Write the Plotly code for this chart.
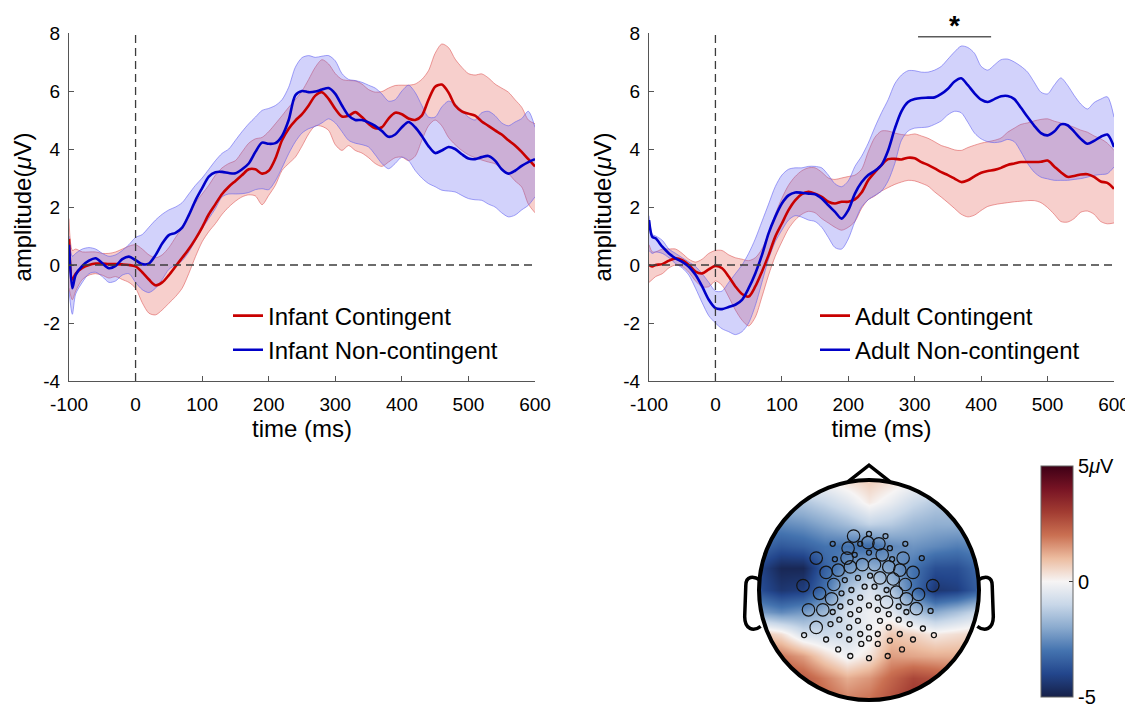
import numpy as np
import plotly.graph_objects as go

# ---------------- data ----------------
time_ms = [-100, -95] + list(range(-90, 601, 10))

infant_cont = [0.9, -0.5,
    -0.3, -0.1, 0.0, 0.05, 0.05, 0.03, 0.03, 0.02, 0.0, -0.05,
    -0.25, -0.5, -0.7, -0.6, -0.35, -0.05, 0.25, 0.55, 0.9, 1.3,
    1.75, 2.1, 2.45, 2.7, 2.9, 3.1, 3.3, 3.3, 3.15, 3.25,
    3.67, 4.3, 4.7, 4.98, 5.2, 5.5, 5.84, 5.96, 5.73, 5.38,
    5.12, 5.15, 5.27, 5.1, 4.87, 4.72, 4.75, 5.05, 5.25, 5.2,
    5.05, 5.0, 5.15, 5.7, 6.15, 6.22, 5.95, 5.5, 5.3, 5.22,
    5.15, 4.95, 4.8, 4.64, 4.5, 4.3, 4.12, 3.9, 3.65, 3.4]
infant_cont_hi = [1.6, 0.5,
    0.55, 0.45, 0.45, 0.45, 0.4, 0.4, 0.45, 0.55, 0.65, 0.7,
    0.55, 0.35, 0.25, 0.35, 0.6, 0.95, 1.3, 1.75, 2.15, 2.45,
    2.75, 3.1, 3.35, 3.5, 3.6, 3.9, 4.2, 4.35, 4.4, 4.6,
    4.87, 5.15, 5.44, 5.7, 6.0, 6.4, 6.82, 7.08, 6.93, 6.6,
    6.4, 6.36, 6.35, 6.24, 6.05, 5.96, 5.98, 6.1, 6.19, 6.2,
    6.2, 6.24, 6.4, 6.7, 7.3, 7.62, 7.5, 7.1, 6.82, 6.6,
    6.55, 6.59, 6.45, 6.24, 6.1, 5.96, 5.7, 5.44, 5.0, 4.87]
infant_cont_lo = [-0.8, -1.2,
    -0.9, -0.5, -0.35, -0.3, -0.35, -0.45, -0.4, -0.5, -0.6, -0.8,
    -1.3, -1.66, -1.72, -1.55, -1.32, -1.09, -0.8, -0.29, 0.29, 0.8,
    1.15, 1.43, 1.75, 2.0, 2.2, 2.35, 2.42, 2.38, 2.08, 2.4,
    2.75, 3.26, 3.5, 3.72, 4.1, 4.52, 4.8, 4.78, 4.64, 4.15,
    3.95, 4.12, 3.95, 3.86, 3.7, 3.5, 3.4, 3.55, 3.7, 3.72,
    3.6, 3.75, 4.3, 4.8, 5.0, 4.8, 4.4, 4.15, 3.95, 3.8,
    3.7, 3.62, 3.55, 3.49, 3.3, 3.15, 2.9, 2.69, 2.1, 1.8]

infant_noncont = [0.7, -0.8,
    -0.34, -0.03, 0.15, 0.23, 0.06, -0.11, -0.03, 0.2, 0.29, 0.17,
    0.03, 0.05, 0.34, 0.74, 1.03, 1.11, 1.29, 1.72, 2.23, 2.65,
    3.05, 3.2, 3.21, 3.17, 3.16, 3.3, 3.5, 3.9, 4.22, 4.18,
    4.2, 4.45, 5.0, 5.85, 6.0, 5.96, 5.98, 6.05, 6.1, 5.9,
    5.5, 5.15, 5.0, 5.0, 4.92, 4.8, 4.62, 4.42, 4.5, 4.75,
    4.93, 4.75, 4.45, 4.1, 3.86, 3.95, 4.07, 4.0, 3.82, 3.67,
    3.65, 3.72, 3.76, 3.6, 3.3, 3.15, 3.25, 3.42, 3.55, 3.65]
infant_noncont_hi = [1.0, 0.3,
    0.4, 0.55, 0.6, 0.55, 0.4, 0.3, 0.35, 0.5, 0.7, 0.95,
    1.05, 1.3, 1.55, 1.75, 1.9, 2.0, 2.15, 2.45, 2.75, 3.0,
    3.3, 3.6, 3.85, 4.0, 4.3, 4.6, 4.87, 5.1, 5.33, 5.4,
    5.5, 5.7, 6.13, 6.82, 7.15, 7.22, 7.16, 7.2, 7.22, 7.04,
    6.6, 6.4, 6.36, 6.3, 6.2, 6.1, 5.9, 5.65, 5.7, 6.0,
    6.2, 5.95, 5.5, 5.1, 5.1, 5.45, 5.65, 5.55, 5.33, 5.1,
    5.0, 5.25, 5.3, 5.15, 4.9, 4.8, 4.93, 5.05, 5.3, 4.75]
infant_noncont_lo = [-0.9, -1.7,
    -1.0, -0.6, -0.3, -0.25, -0.4, -0.6, -0.55, -0.35, -0.3, -0.6,
    -0.85, -0.95, -0.8, -0.5, -0.15, 0.0, 0.15, 0.45, 0.85, 1.25,
    1.6, 1.95, 2.35, 2.45, 2.45, 2.46, 2.5, 2.6, 2.63, 2.6,
    2.9, 3.35, 3.84, 4.25, 4.55, 4.7, 4.78, 4.9, 5.04, 4.9,
    4.6, 4.3, 4.2, 4.15, 4.07, 3.8, 3.5, 3.32, 3.5, 3.72,
    3.6, 3.26, 3.0, 2.81, 2.7, 2.58, 2.55, 2.52, 2.4, 2.29,
    2.25, 2.23, 2.1, 2.0, 1.8, 1.66, 1.72, 1.9, 2.06, 2.35]

adult_cont = [0.0, -0.05,
    0.0, 0.03, 0.15, 0.23, 0.17, 0.0, -0.23, -0.29, -0.15, -0.03,
    -0.11, -0.4, -0.74, -1.0, -1.09, -0.74, -0.23, 0.34, 0.97, 1.43,
    1.89, 2.23, 2.44, 2.52, 2.46, 2.35, 2.18, 2.12, 2.18, 2.18,
    2.26, 2.5, 2.92, 3.2, 3.45, 3.65, 3.66, 3.64, 3.7, 3.68,
    3.55, 3.45, 3.33, 3.2, 3.1, 2.98, 2.86, 2.92, 3.06, 3.18,
    3.24, 3.28, 3.35, 3.45, 3.5, 3.55, 3.55, 3.55, 3.56, 3.6,
    3.4, 3.2, 3.04, 3.07, 3.12, 3.13, 3.04, 2.88, 2.83, 2.63]
adult_cont_hi = [0.7, 0.45,
    0.45, 0.55, 0.55, 0.55, 0.4, 0.2, 0.1, 0.2, 0.4, 0.5,
    0.5, 0.35, 0.25, 0.2, 0.15, 0.25, 0.55, 1.1, 1.75, 2.3,
    2.75, 3.05, 3.25, 3.35, 3.35, 3.2, 3.0, 2.95, 3.0, 3.05,
    3.1, 3.3, 3.9, 4.4, 4.62, 4.62, 4.55, 4.5, 4.48, 4.52,
    4.45, 4.37, 4.25, 4.12, 4.05, 3.97, 3.95, 4.05, 4.13, 4.2,
    4.25, 4.3, 4.38, 4.58, 4.72, 4.85, 4.9, 4.97, 5.02, 5.04,
    4.96, 4.9, 4.83, 4.75, 4.65, 4.58, 4.45, 4.35, 4.2, 3.95]
adult_cont_lo = [-0.6, -0.5,
    -0.4, -0.3, -0.1, 0.0, -0.05, -0.25, -0.55, -0.75, -0.75, -0.55,
    -0.7, -1.1, -1.55, -1.9, -2.1, -1.8, -1.1, -0.35, 0.3, 0.8,
    1.25, 1.55, 1.75, 1.85, 1.8, 1.6, 1.45, 1.3, 1.2, 1.3,
    1.5, 1.95, 2.25, 2.38, 2.55, 2.67, 2.78, 2.86, 2.92, 2.9,
    2.82, 2.72, 2.52, 2.34, 2.15, 1.95, 1.75, 1.66, 1.72, 1.88,
    2.02, 2.08, 2.12, 2.15, 2.18, 2.2, 2.22, 2.22, 2.15, 1.98,
    1.75, 1.5, 1.48, 1.6, 1.82, 1.86, 1.75, 1.5, 1.42, 1.45]

adult_noncont = [1.55, 0.97,
    0.92, 0.63, 0.4, 0.23, 0.11, -0.06, -0.34, -0.74, -1.2, -1.49,
    -1.52, -1.45, -1.37, -1.2, -0.8, -0.29, 0.34, 1.09, 1.66, 2.12,
    2.4, 2.5, 2.49, 2.46, 2.44, 2.29, 2.06, 1.83, 1.6, 1.89,
    2.46, 2.85, 3.1, 3.25, 3.45, 3.95, 4.7, 5.3, 5.62, 5.72,
    5.76, 5.77, 5.78, 5.9, 6.08, 6.33, 6.44, 6.2, 5.92, 5.7,
    5.62, 5.72, 5.82, 5.83, 5.72, 5.42, 5.1, 4.8, 4.55, 4.47,
    4.6, 4.85, 4.82, 4.6, 4.35, 4.18, 4.28, 4.42, 4.5, 4.07]
adult_noncont_hi = [1.7, 1.05,
    1.0, 0.85, 0.55, 0.4, 0.25, 0.1, -0.05, -0.3, -0.6, -0.9,
    -0.9, -0.6, -0.3, 0.0, 0.4, 0.9, 1.5, 2.1, 2.7, 3.1,
    3.3, 3.35, 3.35, 3.4, 3.4, 3.35, 3.1, 2.8, 2.7, 2.9,
    3.4, 3.75, 4.2, 4.75, 5.25, 5.7, 6.25, 6.55, 6.7, 6.7,
    6.65, 6.65, 6.72, 6.85, 7.1, 7.35, 7.55, 7.5, 7.3, 6.85,
    6.72, 6.9, 7.08, 7.1, 7.0, 6.85, 6.65, 6.3, 5.96, 5.9,
    6.2, 6.45, 6.2, 5.85, 5.55, 5.38, 5.6, 5.72, 5.8, 5.1]
adult_noncont_lo = [0.5, 0.4,
    0.45, 0.4, 0.25, 0.05, -0.1, -0.35, -0.8, -1.3, -1.75, -2.0,
    -2.2, -2.3, -2.4, -2.3, -2.0, -1.4, -0.6, 0.2, 0.8, 1.2,
    1.55, 1.7, 1.65, 1.55, 1.5, 1.3, 0.95, 0.6, 0.55, 0.9,
    1.5, 2.0, 2.25, 2.4, 2.55, 2.9, 3.5, 4.3, 4.62, 4.72,
    4.74, 4.76, 4.85, 4.97, 5.18, 5.3, 5.25, 4.92, 4.55, 4.35,
    4.25, 4.22, 4.25, 4.33, 4.25, 3.9, 3.5, 3.2, 3.03, 2.97,
    2.92, 2.92, 2.92, 2.95, 2.98, 3.03, 3.09, 3.12, 3.15, 3.38]

time_ticks = [-100, 0, 100, 200, 300, 400, 500, 600]
time_labels = ["-100", "0", "100", "200", "300", "400", "500", "600"]
amp_ticks = [-4, -2, 0, 2, 4, 6, 8]
amp_labels = ["-4", "-2", "0", "2", "4", "6", "8"]
sig_window = [305, 415]
sig_level = 7.87

# topography: coarse grid of amplitudes (uV), rows from bottom (v=-1) to top (v=1)
topo_u = [-1.0, -0.8, -0.6, -0.4, -0.2, 0.0, 0.2, 0.4, 0.6, 0.8, 1.0]
topo_v = [-1.0, -0.8, -0.6, -0.4, -0.2, 0.0, 0.2, 0.4, 0.6, 0.8, 1.0]
topo_z = [
    [2.6, 2.6, 2.6, 2.2, 1.8, 2.0, 2.6, 3.2, 3.2, 2.6, 2.6],
    [2.6, 2.6, 2.4, 1.8, 1.2, 1.5, 2.2, 2.8, 2.6, 2.2, 2.2],
    [2.0, 1.9, 1.4, 0.5, -0.2, 0.3, 1.4, 1.3, 1.2, 1.2, 1.2],
    [0.9, 0.4, -0.7, -0.9, -0.8, -0.2, 0.8, 0.6, 0.2, 0.4, 0.6],
    [-2.2, -2.6, -2.3, -1.7, -0.6, -0.2, -0.4, -1.4, -2.0, -1.5, -0.9],
    [-3.8, -4.4, -4.2, -3.0, -1.4, -0.6, -1.4, -3.0, -4.4, -4.2, -3.4],
    [-4.0, -4.8, -4.8, -3.4, -2.4, -1.8, -2.2, -3.0, -3.8, -3.8, -3.2],
    [-3.2, -3.6, -3.4, -3.0, -3.0, -3.2, -2.6, -2.4, -2.6, -2.8, -2.6],
    [-2.4, -2.6, -2.4, -2.0, -1.6, -1.1, -1.3, -1.7, -1.9, -1.9, -1.7],
    [-1.4, -1.6, -1.4, -1.0, -0.5, 0.2, -0.3, -0.9, -1.3, -1.4, -1.4],
    [0.3, 0.3, 0.0, 0.0, 0.4, 0.7, 0.4, 0.0, 0.0, 0.3, 0.3],
]
cbar_ticks = [-5, 0, 5]
cbar_labels = ["-5", "0", "5<i>μ</i>V"]

# electrode positions (head units, radius 1 = scalp outline)
elec_big_u = [-0.14, -0.01, 0.09, -0.19, -0.48, -0.20, 0.12, 0.31, -0.06, 0.05, -0.17,
              -0.28, 0.18, 0.28, 0.40, -0.39, 0.10, 0.22, -0.60, -0.32, 0.33, 0.58,
              -0.45, 0.25, 0.45, -0.34, 0.16, 0.34, -0.55, -0.42, 0.43, -0.48]
elec_big_v = [0.49, 0.43, 0.42, 0.38, 0.29, 0.29, 0.32, 0.29, 0.23, 0.23, 0.21,
              0.18, 0.21, 0.18, 0.16, 0.16, 0.11, 0.10, 0.04, 0.05, 0.05, 0.04,
              -0.03, -0.02, -0.04, -0.08, -0.11, -0.08, -0.18, -0.18, -0.17, -0.34]
elec_small_u = [0.00, 0.15, -0.33, -0.08, 0.33, 0.19, 0.00, -0.13, 0.48, -0.31, 0.21,
                0.01, -0.10, -0.22, -0.04, 0.05, -0.16, 0.16, -0.25, -0.08, 0.08,
                -0.17, 0.00, -0.26, 0.27, -0.33, -0.09, 0.08, -0.17, 0.18, 0.34, 0.56,
                -0.27, -0.10, 0.10, 0.27, -0.35, -0.18, 0.00, 0.18, 0.37, 0.49,
                -0.59, -0.27, -0.08, 0.08, 0.28, 0.59, -0.39, -0.18, 0.00, 0.19, 0.40,
                -0.28, -0.07, 0.08, 0.30, -0.17, 0.00, 0.17]
elec_small_v = [0.51, 0.49, 0.42, 0.42, 0.42, 0.38, 0.34, 0.32, 0.29, 0.28, 0.28,
                0.13, 0.11, 0.09, 0.03, 0.03, 0.00, 0.00, -0.03, -0.07, -0.07,
                -0.11, -0.14, -0.15, -0.15, -0.20, -0.18, -0.18, -0.22, -0.22, -0.20, -0.19,
                -0.27, -0.28, -0.28, -0.27, -0.31, -0.34, -0.34, -0.34, -0.31, -0.35,
                -0.41, -0.41, -0.40, -0.40, -0.40, -0.41, -0.45, -0.45, -0.44, -0.46, -0.45,
                -0.54, -0.49, -0.49, -0.54, -0.60, -0.62, -0.60]

# ---------------- styles ----------------
FONT = "Liberation Sans, Arial, Helvetica, sans-serif"
RED = "rgb(200,0,0)"
BLUE = "rgb(0,0,200)"
RED_FILL = "rgba(228,95,85,0.30)"
RED_EDGE = "rgba(220,80,80,0.55)"
BLUE_FILL = "rgba(95,95,240,0.28)"
BLUE_EDGE = "rgba(90,90,240,0.55)"
AXC = "rgb(85,85,85)"

fig = go.Figure()


def add_band(lo, hi, fill, edge, xa, ya):
    fig.add_trace(go.Scatter(x=time_ms, y=lo, mode="lines", line=dict(color=edge, width=1, shape="spline", smoothing=0.8),
                             showlegend=False, hoverinfo="skip", xaxis=xa, yaxis=ya))
    fig.add_trace(go.Scatter(x=time_ms, y=hi, mode="lines", line=dict(color=edge, width=1, shape="spline", smoothing=0.8),
                             fill="tonexty", fillcolor=fill, showlegend=False, hoverinfo="skip", xaxis=xa, yaxis=ya))


add_band(infant_cont_lo, infant_cont_hi, RED_FILL, RED_EDGE, "x", "y")
add_band(infant_noncont_lo, infant_noncont_hi, BLUE_FILL, BLUE_EDGE, "x", "y")
add_band(adult_cont_lo, adult_cont_hi, RED_FILL, RED_EDGE, "x2", "y2")
add_band(adult_noncont_lo, adult_noncont_hi, BLUE_FILL, BLUE_EDGE, "x2", "y2")

fig.add_trace(go.Scatter(x=time_ms, y=infant_cont, mode="lines", name="Infant Contingent",
                         line=dict(color=RED, width=2.6, shape="spline", smoothing=0.8), xaxis="x", yaxis="y", legend="legend"))
fig.add_trace(go.Scatter(x=time_ms, y=infant_noncont, mode="lines", name="Infant Non-contingent",
                         line=dict(color=BLUE, width=2.6, shape="spline", smoothing=0.8), xaxis="x", yaxis="y", legend="legend"))
fig.add_trace(go.Scatter(x=time_ms, y=adult_cont, mode="lines", name="Adult Contingent",
                         line=dict(color=RED, width=2.6, shape="spline", smoothing=0.8), xaxis="x2", yaxis="y2", legend="legend2"))
fig.add_trace(go.Scatter(x=time_ms, y=adult_noncont, mode="lines", name="Adult Non-contingent",
                         line=dict(color=BLUE, width=2.6, shape="spline", smoothing=0.8), xaxis="x2", yaxis="y2", legend="legend2"))

# ---------------- layout geometry ----------------
# the page body adds an 8 px offset; the figure is sized to fit the window
OFF = 8
W, H = 1133 - OFF, 712 - OFF


def px_x(a, b):
    return [(a - OFF) / W, (b - OFF) / W]


def px_y(top, bottom):
    return [1 - (bottom - OFF) / H, 1 - (top - OFF) / H]


def py(yy):
    return 1 - (yy - OFF) / H


# topographic map
topo_scale = [
    [0.0, "rgb(22,32,72)"], [0.1, "rgb(35,70,140)"], [0.2, "rgb(68,115,175)"],
    [0.3, "rgb(138,170,206)"], [0.4, "rgb(200,215,232)"], [0.5, "rgb(246,244,244)"],
    [0.6, "rgb(236,188,160)"], [0.7, "rgb(202,112,82)"], [0.8, "rgb(162,60,50)"],
    [0.9, "rgb(120,20,36)"], [1.0, "rgb(62,0,22)"]]
fig.add_trace(go.Heatmap(
    x=topo_u, y=topo_v, z=topo_z, zsmooth="best", colorscale=topo_scale, zmin=-5, zmax=5,
    xaxis="x3", yaxis="y3", hoverinfo="skip",
    colorbar=dict(x=(1041 - OFF) / W, xanchor="left", xpad=0, y=py(581.5), yanchor="middle", ypad=0,
                  thickness=32, thicknessmode="pixels", len=231, lenmode="pixels",
                  tickvals=cbar_ticks, ticktext=cbar_labels, ticks="inside", ticklen=4,
                  tickcolor="rgb(60,60,60)", outlinewidth=1, outlinecolor="rgb(100,100,100)",
                  tickfont=dict(family=FONT, size=20, color="black"))))
fig.add_trace(go.Scatter(x=elec_big_u, y=elec_big_v, mode="markers", showlegend=False, hoverinfo="skip",
                         marker=dict(symbol="circle-open", size=12.5, color="rgb(20,20,20)", line=dict(width=1.2)),
                         xaxis="x3", yaxis="y3"))
fig.add_trace(go.Scatter(x=elec_small_u, y=elec_small_v, mode="markers", showlegend=False, hoverinfo="skip",
                         marker=dict(symbol="circle-open", size=5, color="rgb(20,20,20)", line=dict(width=1.3)),
                         xaxis="x3", yaxis="y3"))

tickfont = dict(family=FONT, size=19, color="black")
titlefont = dict(family=FONT, size=24, color="black")

common_x = dict(range=[-100, 600], tickvals=time_ticks, ticktext=time_labels, ticks="inside", ticklen=5,
                tickcolor=AXC, showline=True, linecolor=AXC, linewidth=1.3, showgrid=False, zeroline=False,
                automargin=False, ticklabelstandoff=6,
                tickfont=tickfont, title=dict(text="time (ms)", font=titlefont, standoff=5))
common_y = dict(range=[-4, 8], tickvals=amp_ticks, ticktext=amp_labels, ticks="inside", ticklen=5,
                tickcolor=AXC, showline=True, linecolor=AXC, linewidth=1.3, showgrid=False, zeroline=False,
                automargin=False, ticklabelstandoff=4,
                tickfont=tickfont, title=dict(text="amplitude(<i>μ</i>V)", font=titlefont, standoff=4))

ydom = px_y(33, 381)
TR = 1.35
TB, TT = -1.05, 1.32
HR = 110.0
cx, cy = 869.0, 590.0
x3dom = px_x(cx - TR * HR, cx + TR * HR)
y3dom = px_y(cy - TT * HR, cy - TB * HR)

legend_style = dict(xanchor="left", yanchor="top", bgcolor="rgba(0,0,0,0)",
                    font=dict(family=FONT, size=24, color="black"), tracegroupgap=0,
                    traceorder="normal", itemwidth=30)

fig.update_layout(
    width=W, height=H, margin=dict(l=0, r=0, t=0, b=0, autoexpand=False),
    paper_bgcolor="white", plot_bgcolor="white",
    font=dict(family=FONT, color="black"),
    xaxis=dict(domain=px_x(69, 535), anchor="y", **common_x),
    yaxis=dict(domain=ydom, anchor="x", **common_y),
    xaxis2=dict(domain=px_x(649, 1114), anchor="y2", **common_x),
    yaxis2=dict(domain=ydom, anchor="x2", **common_y),
    xaxis3=dict(domain=x3dom, anchor="y3", range=[-TR, TR], visible=False, automargin=False),
    yaxis3=dict(domain=y3dom, anchor="x3", range=[TB, TT], visible=False, automargin=False),
    legend=dict(x=220 / W, y=1 - 285.5 / H, **legend_style),
    legend2=dict(x=807 / W, y=1 - 285.5 / H, **legend_style),
    showlegend=True,
)

shapes = []
for xa, ya in (("x", "y"), ("x2", "y2")):
    shapes.append(dict(type="line", xref=xa, yref=ya, x0=0, x1=0, y0=-4, y1=8,
                       line=dict(color="rgb(60,60,60)", width=1.3, dash="8px,5px"), layer="above"))
    shapes.append(dict(type="line", xref=xa, yref=ya, x0=-100, x1=600, y0=0, y1=0,
                       line=dict(color="rgb(60,60,60)", width=1.3, dash="8px,5px"), layer="above"))
# significance bar
shapes.append(dict(type="line", xref="x2", yref="y2", x0=sig_window[0], x1=sig_window[1], y0=sig_level, y1=sig_level,
                   line=dict(color="rgb(90,90,90)", width=1.6)))


# topomap mask (white outside scalp) drawn in paper units so it is not clipped at the subplot edge
def to_paper(u, v):
    px = x3dom[0] + (u + TR) / (2 * TR) * (x3dom[1] - x3dom[0])
    pyy = y3dom[0] + (v - TB) / (TT - TB) * (y3dom[1] - y3dom[0])
    return px, pyy


ang = np.linspace(0, 2 * np.pi, 241)
circ_pts = [to_paper(np.cos(a) * 0.995, np.sin(a) * 0.995) for a in ang]
circ = " ".join(("M" if i == 0 else "L") + f"{p[0]:.5f},{p[1]:.5f}" for i, p in enumerate(circ_pts)) + " Z"
r0 = to_paper(-1.25, -1.3)
r1 = to_paper(1.25, 1.16)
rect = f"M{r0[0]:.5f},{r0[1]:.5f} L{r1[0]:.5f},{r0[1]:.5f} L{r1[0]:.5f},{r1[1]:.5f} L{r0[0]:.5f},{r1[1]:.5f} Z"
shapes.append(dict(type="path", xref="paper", yref="paper", path=rect + " " + circ, fillcolor="white",
                   line=dict(width=0), fillrule="evenodd", layer="above"))
shapes.append(dict(type="circle", xref="x3", yref="y3", x0=-1, y0=-1, x1=1, y1=1,
                   line=dict(color="black", width=4), layer="above"))
shapes.append(dict(type="path", xref="x3", yref="y3", path="M-0.19,0.985 L0,1.135 L0.19,0.985",
                   line=dict(color="black", width=3.5), layer="above"))
shapes.append(dict(type="path", xref="x3", yref="y3",
                   path="M-0.99,0.09 C-1.05,0.13 -1.12,0.13 -1.12,0.04 L-1.13,-0.24 C-1.13,-0.36 -1.05,-0.38 -0.985,-0.33",
                   line=dict(color="black", width=3.5), layer="above"))
shapes.append(dict(type="path", xref="x3", yref="y3",
                   path="M0.99,0.09 C1.05,0.13 1.12,0.13 1.12,0.04 L1.13,-0.24 C1.13,-0.36 1.05,-0.38 0.985,-0.33",
                   line=dict(color="black", width=3.5), layer="above"))
fig.update_layout(shapes=shapes)

fig.add_annotation(x=sum(sig_window) / 2, y=1 - 17 / H, xref="x2", yref="paper", yanchor="middle",
                   text="<b>*</b>", showarrow=False, font=dict(family=FONT, size=28, color="black"))

fig.write_html("out.html")
